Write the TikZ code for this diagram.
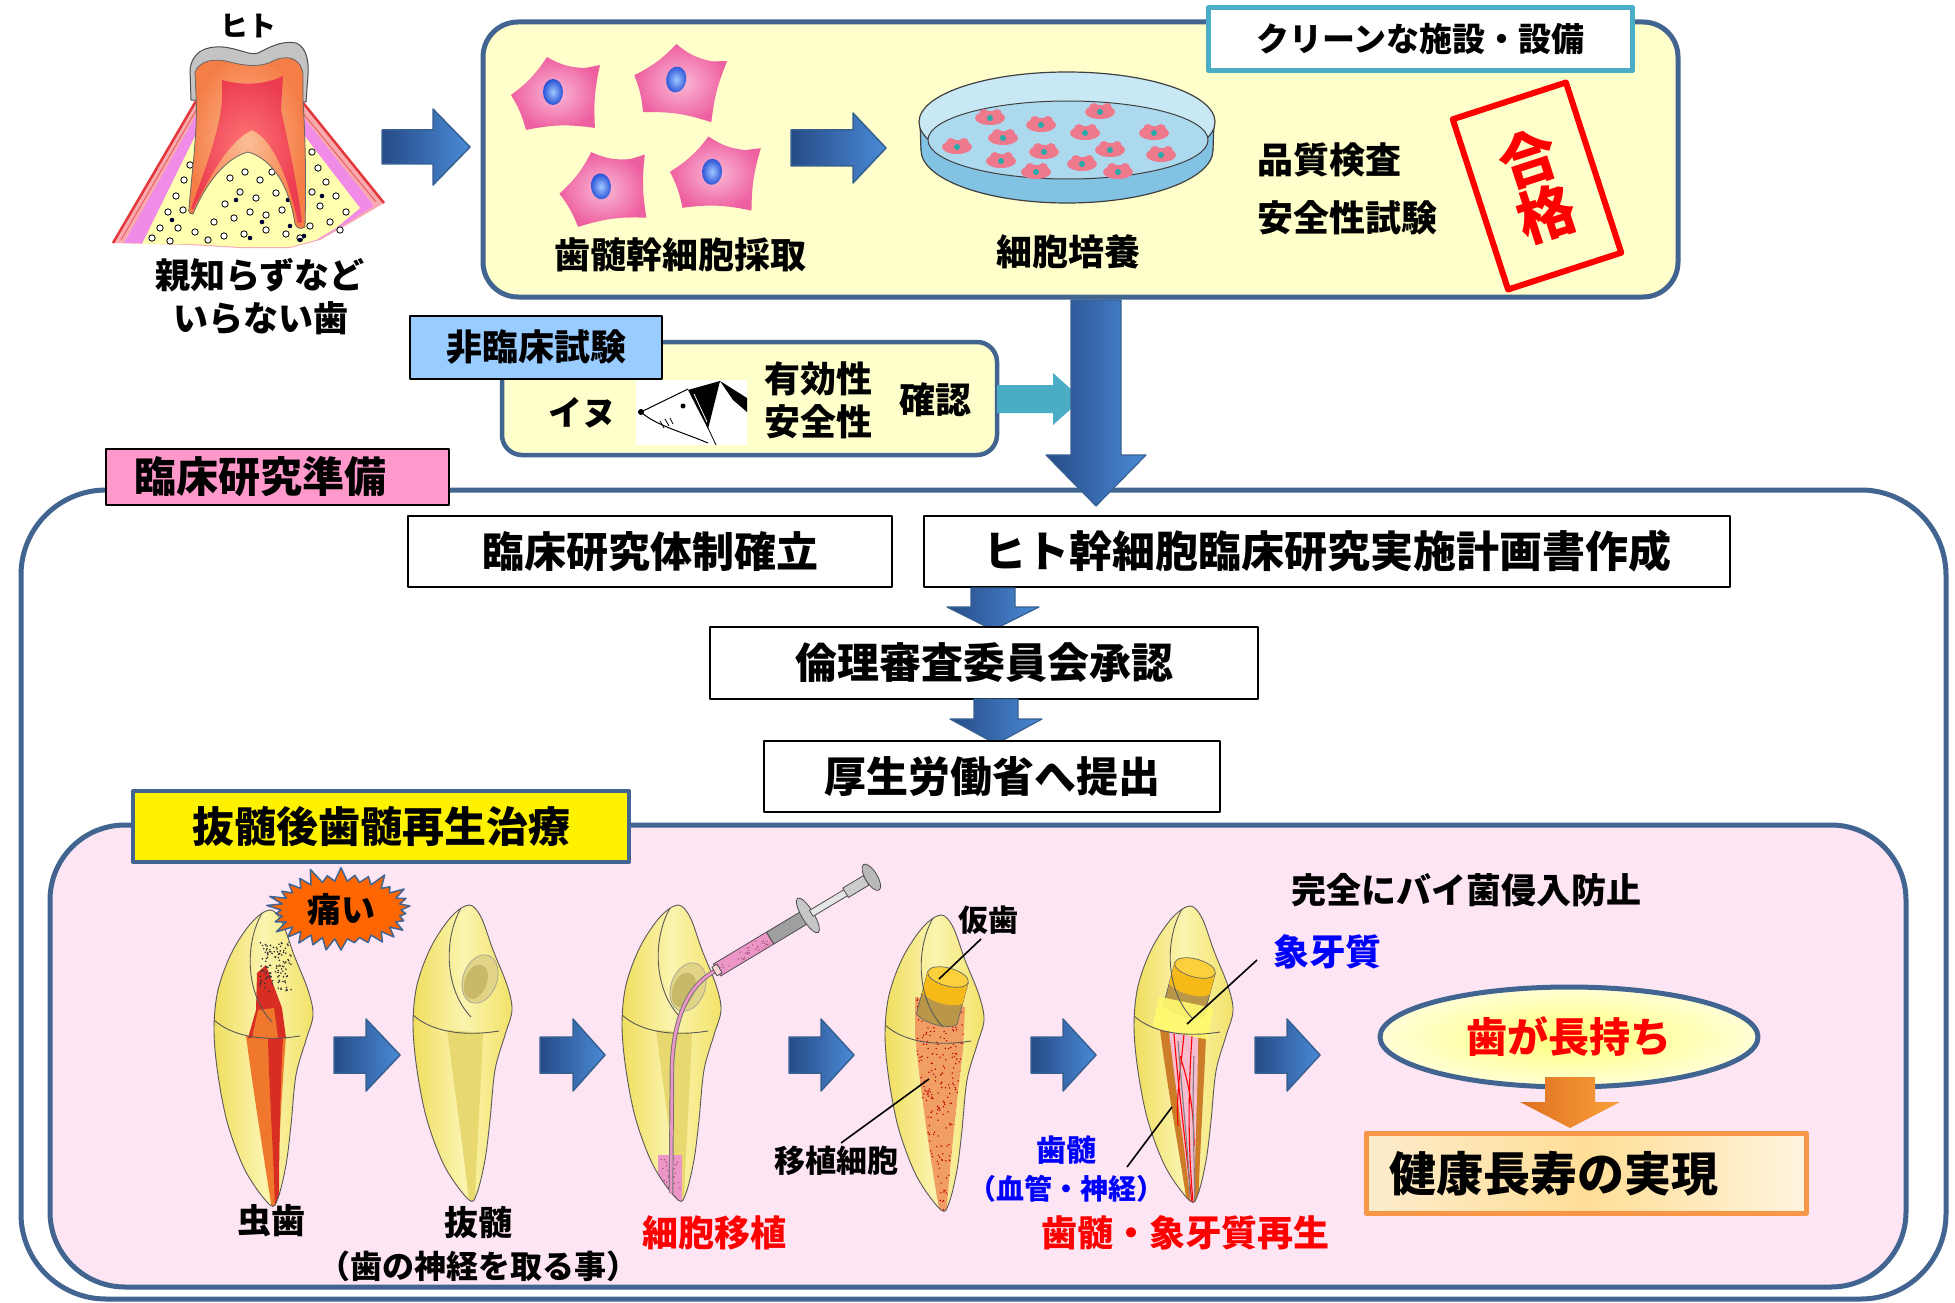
\documentclass[tikz,border=0pt]{standalone}
\usepackage{fontspec}
\setmainfont{Noto Sans CJK JP}
\usetikzlibrary{shapes.geometric,shapes.symbols,calc}

\definecolor{navy}{RGB}{65,100,145}
\definecolor{arrowline}{RGB}{55,96,146}
\definecolor{arrowdark}{RGB}{38,75,135}
\definecolor{arrowlight}{RGB}{74,138,214}
\definecolor{paleyellow}{RGB}{255,255,204}
\definecolor{tealline}{RGB}{75,172,198}
\definecolor{labelblue}{RGB}{153,204,255}
\definecolor{labelpink}{RGB}{255,153,204}
\definecolor{panelpink}{RGB}{253,229,243}
\definecolor{txtblue}{RGB}{0,0,255}
\definecolor{starorange}{RGB}{255,102,0}
\definecolor{boxorange}{RGB}{247,150,70}
\definecolor{orangedark}{RGB}{222,112,32}
\definecolor{orangelight}{RGB}{250,160,60}
\definecolor{peachA}{RGB}{253,236,205}
\definecolor{peachB}{RGB}{255,222,150}
\definecolor{peachC}{RGB}{255,244,222}
\definecolor{ovalA}{RGB}{255,255,120}
\definecolor{ovalB}{RGB}{255,255,215}
\definecolor{toothA}{RGB}{240,222,95}
\definecolor{toothB}{RGB}{251,244,175}
\definecolor{toothC}{RGB}{242,226,105}
\definecolor{canalyellow}{RGB}{232,216,112}
\definecolor{cavityA}{RGB}{226,212,135}
\definecolor{cavityB}{RGB}{200,184,105}
\definecolor{pulpred}{RGB}{215,45,35}
\definecolor{pulporange}{RGB}{240,120,45}
\definecolor{cellpinkA}{RGB}{250,185,215}
\definecolor{cellpinkB}{RGB}{238,95,160}
\definecolor{nucA}{RGB}{160,200,255}
\definecolor{nucB}{RGB}{40,80,215}
\definecolor{dishtop}{RGB}{200,232,245}
\definecolor{dishbody}{RGB}{130,195,228}
\definecolor{dishfloor}{RGB}{172,217,238}
\definecolor{dishcell}{RGB}{238,120,140}
\definecolor{dishnuc}{RGB}{40,170,170}
\definecolor{gumsalmon}{RGB}{248,170,175}
\definecolor{gummagenta}{RGB}{240,140,232}
\definecolor{gumred}{RGB}{228,55,60}
\definecolor{boneyellow}{RGB}{255,255,175}
\definecolor{enamelgray}{RGB}{196,196,196}
\definecolor{dentinA}{RGB}{252,190,150}
\definecolor{dentinB}{RGB}{245,125,70}
\definecolor{molarpulpA}{RGB}{255,120,120}
\definecolor{molarpulpB}{RGB}{235,60,80}
\definecolor{syringepink}{RGB}{236,150,200}
\definecolor{graftorange}{RGB}{240,158,100}
\definecolor{crowngold}{RGB}{246,186,24}
\definecolor{crowntop}{RGB}{252,208,60}
\definecolor{crownbrown}{RGB}{185,150,72}
\definecolor{canalbrown}{RGB}{205,125,40}
\definecolor{canalpink}{RGB}{246,188,208}
\definecolor{bandyellow}{RGB}{255,250,110}

\newcommand\jsize[1]{\fontsize{#1}{#1}\selectfont}

\tikzset{
  every node/.style={inner sep=0pt, outer sep=0pt},
  jp/.style={font=\bfseries\jsize{#1}},
  frame/.style={draw=navy, line width=5pt},
  plainbox/.style={draw=black, line width=1.6pt, fill=white},
  blockR/.style={draw=arrowline, line width=1.5pt, left color=arrowdark, right color=arrowlight},
  blockD/.style={draw=arrowline, line width=1.2pt, left color=arrowdark, right color=arrowlight},
  tealarrow/.style={fill=tealline},
  orangearrow/.style={left color=orangedark, right color=orangelight},
  toothbody/.style={left color=toothA, right color=toothC, middle color=toothB},
  toothedge/.style={draw=black!65, line width=0.9pt},
  leader/.style={draw=black, line width=1.6pt},
  cellbody/.style={inner color=cellpinkA, outer color=cellpinkB},
  nucleus/.style={inner color=nucA, outer color=nucB},
}

% block arrows: style, start, centre line, head start, tip, shaft half width, head half width
\newcommand\arrowR[7]{\path[#1] (#2,{#3-#6}) -- (#4,{#3-#6}) -- (#4,{#3-#7}) -- (#5,#3) -- (#4,{#3+#7}) -- (#4,{#3+#6}) -- (#2,{#3+#6}) -- cycle;}
\newcommand\arrowD[7]{\path[#1] ({#2-#6},#3) -- ({#2+#6},#3) -- ({#2+#6},#4) -- ({#2+#7},#4) -- (#2,#5) -- ({#2-#7},#4) -- ({#2-#6},#4) -- cycle;}

% canine outline, tip at the origin
\newcommand\toothfill{\path[toothbody] plot[smooth cycle, tension=0.55] coordinates {(0,0) (12,12) (24,45) (38,80) (43,105) (36,130) (26,165) (21,215) (16,255) (8,288) (0,295) (-24,262) (-42,215) (-52,165) (-56,120) (-52,80) (-38,42) (-18,12)};}
\newcommand\toothclip{\clip plot[smooth cycle, tension=0.55] coordinates {(0,0) (12,12) (24,45) (38,80) (43,105) (36,130) (26,165) (21,215) (16,255) (8,288) (0,295) (-24,262) (-42,215) (-52,165) (-56,120) (-52,80) (-38,42) (-18,12)};}
\newcommand\toothline{\draw[toothedge] plot[smooth cycle, tension=0.55] coordinates {(0,0) (12,12) (24,45) (38,80) (43,105) (36,130) (26,165) (21,215) (16,255) (8,288) (0,295) (-24,262) (-42,215) (-52,165) (-56,120) (-52,80) (-38,42) (-18,12)};
  \draw[toothedge] (-56,110) .. controls (-38,126) and (-8,132) .. (30,126);
  \draw[toothedge] (-8,3) .. controls (-26,35) and (-24,85) .. (2,112);}

% pentagonal stem cell
\newcommand\stemcell{\path[cellbody] (-45,2) to[bend right=10] (-9,-36) to[bend right=14] (29,-25) -- (44,-28) to[bend right=8] (39,35) to[bend right=10] (-30,37) to[bend right=8] cycle;
  \path[nucleus] (-3,-1) ellipse [x radius=10, y radius=13];}

% cultured cell in the dish
\newcommand\dishcell[2]{\fill[dishcell] (#1,#2) ellipse [x radius=15, y radius=7]; \fill[dishcell] ({#1-6},{#2-4}) circle (5); \fill[dishcell] ({#1+7},{#2-4}) circle (5); \fill[dishnuc] (#1,#2) circle (3);}

\begin{document}
\begin{tikzpicture}[x=1pt, y=-1pt, line join=round]
\useasboundingbox (0,0) rectangle (1955,1303);
\fill[white] (0,0) rectangle (1955,1303);

% ---------------- molar in the jaw ----------------
\node[jp=28] (hito) at (248,26) {ヒト};
\path[fill=gumsalmon] (113,243) -- (196,101) -- (300,99) -- (384,203) -- (352,222) -- (320,240) -- (290,248) -- (240,248) -- (190,245) -- cycle;
\path[fill=gummagenta] (124,243) -- (199,110) -- (296,108) -- (374,206) -- (345,224) -- (318,240) -- (290,247) -- (240,247) -- (190,244) -- cycle;
\path[fill=boneyellow] (142,244) -- (202,122) -- (293,121) -- (360,208) -- (336,228) -- (316,240) -- (290,247) -- (240,247) -- (190,244) -- cycle;
\draw[gumred, line width=2.5pt] (113,243) -- (196,101);
\draw[gumred, line width=2.5pt] (300,99) -- (384,203);
\draw[gumred!80, line width=1pt] (121,240) -- (198,107);
\draw[gumred!80, line width=1pt] (297,106) -- (376,202);
\foreach \x/\y in {190/165,184/180,176/196,168/212,183/210,160/228,178/228,152/238,195/232,170/241,
  230/178,245/172,260/180,272/172,240/192,225/204,256/198,276/193,214/222,234/218,250/212,266/215,282/210,
  224/236,244/234,266/230,286/234,208/240,312/152,318/168,326/182,312/192,336/196,320/206,346/212,330/222,310/226,300/238,340/230}
  {\draw[black, line width=0.8pt, fill=white] (\x,\y) circle (3.2);}
\foreach \x/\y in {196/188,172/220,236/200,262/222,290/226,300/240,304/236,322/196,288/200,250/238}
  {\fill[black!80!blue] (\x,\y) circle (2.3);}
\path[fill=enamelgray, draw=black!70, line width=1pt] (191,100) -- (190,70) .. controls (192,52) and (205,46) .. (222,47) .. controls (238,48) and (250,56) .. (258,53) .. controls (268,48) and (282,40) .. (296,43) .. controls (306,47) and (309,60) .. (308,75) -- (306,102) -- cycle;
\path[inner color=dentinA, outer color=dentinB, draw=black!60, line width=0.8pt] (196,95) -- (195,72) .. controls (200,60) and (215,58) .. (230,62) .. controls (245,66) and (262,68) .. (275,60) .. controls (290,54) and (302,60) .. (303,75) -- (303,100) .. controls (306,150) and (306,190) .. (305,227) .. controls (300,230) and (297,228) .. (295,224) .. controls (290,190) and (275,160) .. (248,152) .. controls (225,158) and (205,185) .. (193,214) .. controls (190,214) and (188,212) .. (189,208) .. controls (192,170) and (198,130) .. (196,95) -- cycle;
\path[inner color=molarpulpA, outer color=molarpulpB] (222,80) .. controls (240,85) and (262,86) .. (283,76) -- (281,110) .. controls (290,150) and (298,190) .. (302,222) -- (298,223) .. controls (290,185) and (275,140) .. (252,130) .. controls (230,140) and (210,175) .. (193,210) -- (191,208) .. controls (205,170) and (220,130) .. (222,100) -- cycle;
\node[jp=35] (wisdom) at (260,275) {親知らずなど};
\node[jp=35] (unneeded) at (261,318) {いらない歯};
\arrowR{blockR}{382}{147}{433}{470}{17}{38}

% ---------------- cell culture ----------------
\draw[frame, fill=paleyellow, rounded corners=35pt] (483,22) rectangle (1678,297);
\node[draw=tealline, line width=5pt, fill=white, minimum width=424pt, minimum height=63pt, jp=33] (clean) at (1420.5,39) {クリーンな施設・設備};
\begin{scope}[shift={(556,93)}] \stemcell \end{scope}
\begin{scope}[shift={(679,81)}, rotate=-10] \stemcell \end{scope}
\begin{scope}[shift={(604,187)}, rotate=6] \stemcell \end{scope}
\begin{scope}[shift={(715,173)}, rotate=-4] \stemcell \end{scope}
\node[jp=36] (harvest) at (680,255) {歯髄幹細胞採取};
\arrowR{blockR}{791}{148}{853}{886}{18}{35}
% petri dish
\path[fill=dishbody, draw=black!75, line width=1.2pt] (1067,150) ellipse [x radius=146, y radius=53];
\fill[dishbody] (920,122) rectangle (1213,150);
\draw[black!75, line width=1.2pt] (920,122) -- (921,150);
\draw[black!75, line width=1.2pt] (1214,122) -- (1213,150);
\path[fill=dishtop, draw=black!75, line width=1.2pt] (1067,122) ellipse [x radius=148, y radius=50];
\path[fill=dishfloor, draw=black!75, line width=1pt] (1068,140) ellipse [x radius=140, y radius=39];
\dishcell{990}{118} \dishcell{1041}{125} \dishcell{1100}{112} \dishcell{1003}{138}
\dishcell{1085}{133} \dishcell{1154}{133} \dishcell{957}{147} \dishcell{1044}{152}
\dishcell{1110}{150} \dishcell{1161}{155} \dishcell{1001}{161} \dishcell{1082}{164}
\dishcell{1036}{172} \dishcell{1118}{172}
\node[jp=36] (culture) at (1068,252) {細胞培養};
\node[jp=36, anchor=west] (quality) at (1257,160) {品質検査};
\node[jp=36, anchor=west] (safetytest) at (1257,218) {安全性試験};
\node[draw=red, line width=6pt, rotate=18, minimum width=119pt, minimum height=179pt, align=center, text=red, jp=58] (passed) at (1537,186) {合\\格};

% ---------------- non-clinical study ----------------
\draw[draw=navy, line width=4.5pt, fill=paleyellow, rounded corners=20pt] (502,342) rectangle (997,455);
\node[fill=labelblue, draw=black, line width=1.6pt, minimum width=252pt, minimum height=63pt, jp=36] (nonclin) at (536,347.5) {非臨床試験};
\node[jp=34] (dogword) at (582,413) {イヌ};
\node[fill=white, minimum width=111pt, minimum height=65pt] (dogpic) at (691.5,412.5) {};
\draw[black, line width=1pt] (641,412) -- (688,389);
\draw[black, line width=1pt] (641,412) .. controls (655,425) and (682,432) .. (708,443);
\draw[black, line width=0.8pt] (708,428) -- (716,445);
\draw[black, line width=0.8pt] (660,421) -- (664,428) (665,419) -- (669,426) (670,418) -- (673,424);
\fill[black] (641,412) circle (3);
\fill[black] (683,406) circle (2.5);
\fill[black] (688,390) -- (720,381) -- (708,429) -- cycle;
\draw[white, line width=0.8pt] (694,394) -- (707,422);
\fill[black] (720,381) -- (747,398) -- (747,412) -- (733,400) -- cycle;
\node[jp=36] (efficacy) at (818,379) {有効性};
\node[jp=36] (safety) at (818,422) {安全性};
\node[jp=36] (confirm) at (935,400) {確認};
\arrowR{tealarrow}{997}{399}{1053}{1082}{14}{26}

% ---------------- clinical research preparation ----------------
\draw[frame, rounded corners=85pt] (21,490) rectangle (1946,1299);
\node[fill=labelpink, draw=black, line width=1.6pt, minimum width=343pt, minimum height=56pt] (prepLabel) at (277.5,477) {};
\node[jp=42, anchor=west] (prepText) at (134,477) {臨床研究準備};
\arrowD{blockD}{1096}{300}{455}{506}{25}{50}
\node[plainbox, minimum width=484pt, minimum height=71pt, jp=42] (system) at (650,551.5) {臨床研究体制確立};
\node[plainbox, minimum width=806pt, minimum height=71pt, jp=43] (plan) at (1327,551.5) {ヒト幹細胞臨床研究実施計画書作成};
\arrowD{blockD}{993}{588}{607}{630}{22}{46}
\node[plainbox, minimum width=548pt, minimum height=72pt, jp=42] (ethics) at (984,663) {倫理審査委員会承認};
\arrowD{blockD}{996}{699}{719}{744}{22}{46}
\node[plainbox, minimum width=456pt, minimum height=71pt, jp=42] (ministry) at (992,776.5) {厚生労働省へ提出};

% ---------------- regenerative therapy ----------------
\draw[frame, fill=panelpink, rounded corners=75pt] (50,825) rectangle (1906,1287);
\node[fill=yellow, draw=navy, line width=4pt, minimum width=496pt, minimum height=71pt, jp=42] (therapyLabel) at (381,826.5) {抜髄後歯髄再生治療};

% tooth 1: caries
\begin{scope}[shift={(270,910)}]
  \toothfill
  \begin{scope}
    \toothclip
    \fill[pulporange] (-24,126) .. controls (-14,200) and (-4,260) .. (2,300) -- (8,300) .. controls (8,240) and (12,180) .. (16,126) -- cycle;
    \fill[pulpred] (-2,128) .. controls (0,200) and (4,250) .. (5,300) -- (9,300) .. controls (9,240) and (10,180) .. (13,128) -- cycle;
    \fill[pulpred] (-13,63) -- (-4,55) -- (12,98) -- (16,128) -- (-22,128) -- (-14,100) -- cycle;
    \fill[pulporange] (-12,100) -- (4,98) -- (8,128) -- (-18,128) -- cycle;
    \pgfmathsetseed{11}
    \foreach \i in {1,...,120}{\pgfmathsetmacro{\dx}{-10+32*rnd}\pgfmathsetmacro{\dy}{32+50*rnd}\fill[black!80] (\dx,\dy) circle (0.9);}
  \end{scope}
  \toothline
\end{scope}
\arrowR{blockR}{334}{1055}{366}{400}{18}{36}

% tooth 2: pulp removed
\begin{scope}[shift={(469,905)}]
  \toothfill
  \begin{scope}
    \toothclip
    \fill[canalyellow] (-22,125) .. controls (-12,200) and (-4,260) .. (0,295) -- (6,295) .. controls (8,240) and (12,180) .. (14,128) -- cycle;
  \end{scope}
  \begin{scope}[shift={(11,74)}, rotate=-20]
    \path[fill=cavityA, draw=black!40, line width=0.6pt] (0,0) ellipse [x radius=17, y radius=25];
    \fill[cavityB] (-3,4) ellipse [x radius=11, y radius=18];
  \end{scope}
  \toothline
\end{scope}
\arrowR{blockR}{540}{1055}{573}{605}{18}{36}

% tooth 3: cell transplantation
\begin{scope}[shift={(678,905)}]
  \toothfill
  \begin{scope}
    \toothclip
    \fill[canalyellow] (-22,125) .. controls (-12,200) and (-4,260) .. (0,295) -- (6,295) .. controls (8,240) and (12,180) .. (14,128) -- cycle;
    \fill[syringepink] (-20,250) rectangle (4,305);
    \pgfmathsetseed{5}
    \foreach \i in {1,...,40}{\pgfmathsetmacro{\dx}{-18+20*rnd}\pgfmathsetmacro{\dy}{252+45*rnd}\fill[magenta!60!black] (\dx,\dy) circle (0.7);}
  \end{scope}
  \begin{scope}[shift={(10,82)}, rotate=-20]
    \path[fill=cavityA, draw=black!40, line width=0.6pt] (0,0) ellipse [x radius=17, y radius=25];
    \fill[cavityB] (-3,4) ellipse [x radius=11, y radius=18];
  \end{scope}
  \toothline
  \draw[black!55, line width=4.5pt] (39,65) .. controls (12,78) and (-4,110) .. (-6,160) -- (-7,288);
  \draw[syringepink, line width=2.6pt] (39,65) .. controls (12,78) and (-4,110) .. (-6,160) -- (-7,288);
  \begin{scope}[shift={(39,65)}, rotate=31]
    \path[fill=syringepink, draw=black!70, line width=0.8pt] (0,-7) rectangle (62,7);
    \pgfmathsetseed{3}
    \foreach \i in {1,...,35}{\pgfmathsetmacro{\dx}{2+58*rnd}\pgfmathsetmacro{\dy}{-5+10*rnd}\fill[magenta!60!black] (\dx,\dy) circle (0.7);}
    \path[fill=pink!70, draw=black!70, line width=0.8pt] (-3,-5) rectangle (3,5);
    \path[fill=gray!75, draw=black!70, line width=0.8pt] (62,-7) rectangle (103,7);
    \path[fill=gray!45, draw=black!70, line width=0.8pt] (106,0) ellipse [x radius=6, y radius=20];
    \path[fill=gray!20, draw=black!70, line width=0.8pt] (110,-3.5) rectangle (152,3.5);
    \path[fill=gray!40, draw=black!70, line width=0.8pt] (150,-5.5) rectangle (174,5.5);
    \path[fill=gray!55, draw=black!70, line width=0.8pt] (180,0) ellipse [x radius=6, y radius=15];
  \end{scope}
\end{scope}
\arrowR{blockR}{789}{1055}{821}{854}{18}{36}

% tooth 4: transplanted cells under a temporary crown
\begin{scope}[shift={(941,915)}]
  \toothfill
  \begin{scope}
    \toothclip
    \path[fill=graftorange] (-26,82) -- (24,92) -- (22,135) .. controls (14,200) and (8,260) .. (5,305) -- (0,305) .. controls (-10,250) and (-20,180) .. (-26,120) -- cycle;
    \clip (-26,82) -- (24,92) -- (22,135) .. controls (14,200) and (8,260) .. (5,305) -- (0,305) .. controls (-10,250) and (-20,180) .. (-26,120) -- cycle;
    \pgfmathsetseed{21}
    \foreach \i in {1,...,320}{\pgfmathsetmacro{\dx}{-26+50*rnd}\pgfmathsetmacro{\dy}{82+222*rnd}\fill[red!75!black] (\dx,\dy) circle (0.8);}
  \end{scope}
  \begin{scope}[shift={(7,62)}, rotate=-15]
    \path[fill=crownbrown, draw=black!60, line width=0.7pt] (-21,0) -- (-21,44) .. controls (-10,51) and (12,51) .. (21,44) -- (21,0) -- cycle;
    \path[fill=crowngold] (-21,0) -- (-21,22) .. controls (-10,29) and (12,29) .. (21,22) -- (21,0) -- cycle;
    \path[fill=crowntop, draw=black!60, line width=0.7pt] (0,0) ellipse [x radius=21, y radius=9];
  \end{scope}
  \toothline
\end{scope}
\arrowR{blockR}{1031}{1055}{1063}{1096}{18}{36}

% tooth 5: regenerated pulp and dentin
\begin{scope}[shift={(1190,906)}]
  \toothfill
  \begin{scope}
    \toothclip
    \fill[canalbrown] (-30,124) .. controls (-20,200) and (-8,260) .. (-2,305) -- (8,305) .. controls (10,240) and (14,180) .. (16,130) -- cycle;
    \fill[canalpink] (-21,126) .. controls (-12,200) and (-3,260) .. (1,300) -- (4,300) .. controls (5,240) and (8,180) .. (8,130) -- cycle;
    \draw[red, line width=1.1pt] (-16,128) .. controls (-12,180) and (-4,240) .. (2,298);
    \draw[red, line width=1.1pt] (-6,128) .. controls (-10,170) and (-14,190) .. (-12,220);
    \draw[red, line width=1.1pt] (2,130) .. controls (-2,190) and (-2,240) .. (3,296);
    \draw[red, line width=1.1pt] (-10,150) .. controls (-2,175) and (4,200) .. (4,240);
    \draw[gray, line width=1.1pt] (-12,135) .. controls (-8,190) and (-2,240) .. (0,290);
    \draw[gray, line width=1.1pt] (4,150) .. controls (2,200) and (4,250) .. (5,295);
  \end{scope}
  \begin{scope}[shift={(5,62)}, rotate=-15]
    \path[fill=crownbrown, draw=black!60, line width=0.7pt] (-21,0) -- (-21,44) .. controls (-10,51) and (12,51) .. (21,44) -- (21,0) -- cycle;
    \path[fill=crowngold] (-21,0) -- (-21,22) .. controls (-10,29) and (12,29) .. (21,22) -- (21,0) -- cycle;
    \path[fill=crowntop, draw=black!60, line width=0.7pt] (0,0) ellipse [x radius=21, y radius=9];
  \end{scope}
  \begin{scope}[shift={(-7,112)}, rotate=-12]
    \fill[bandyellow, opacity=0.9] (-28,-16) rectangle (28,16);
  \end{scope}
  \toothline
\end{scope}
\arrowR{blockR}{1255}{1055}{1287}{1320}{18}{36}

\node[starburst, starburst points=30, starburst point height=16pt, random starburst=60, fill=starorange, draw=navy, line width=1.5pt, minimum width=152pt, minimum height=90pt, jp=34] (pain) at (341,910) {痛い};

% captions in the therapy panel
\node[jp=34] (caries) at (271,1221) {虫歯};
\node[jp=34] (pulpectomy) at (478,1222) {抜髄};
\node[jp=32] (pulpectomyNote) at (478,1266) {（歯の神経を取る事）};
\node[jp=36, text=red] (transplant) at (714,1233) {細胞移植};
\node[jp=31] (graftCells) at (836,1161) {移植細胞};
\node[jp=30] (tempCrown) at (988,920) {仮歯};
\node[jp=36, text=txtblue] (dentinWord) at (1327,952) {象牙質};
\node[jp=30, text=txtblue] (pulpWord) at (1066,1150) {歯髄};
\node[jp=28, text=txtblue] (pulpNote) at (1066,1189) {（血管・神経）};
\node[jp=36, text=red] (regen) at (1185,1233) {歯髄・象牙質再生};
\node[jp=35] (barrier) at (1466,890) {完全にバイ菌侵入防止};

% leader lines
\coordinate (graftFrom) at (841,1143);  \coordinate (graftTo) at (929,1079);
\coordinate (crownFrom) at (981,939);   \coordinate (crownTo) at (939,979);
\coordinate (dentinFrom) at (1257,960); \coordinate (dentinTo) at (1187,1024);
\coordinate (pulpFrom) at (1127,1167);  \coordinate (pulpTo) at (1172,1107);
\draw[leader] (graftFrom) -- (graftTo);
\draw[leader] (crownFrom) -- (crownTo);
\draw[leader] (dentinFrom) -- (dentinTo);
\draw[leader] (pulpFrom) -- (pulpTo);

% outcome
\node[ellipse, draw=navy, line width=5pt, inner color=ovalA, outer color=ovalB, minimum width=378pt, minimum height=100pt, jp=41, text=red] (longlife) at (1569,1037) {歯が長持ち};
\arrowD{orangearrow}{1570}{1077}{1102}{1128}{25}{50}
\node[draw=boxorange, line width=5pt, left color=peachA, right color=peachC, middle color=peachB, minimum width=440pt, minimum height=80pt] (longevity) at (1586,1173) {};
\node[jp=47, anchor=west] (longevityText) at (1389,1174) {健康長寿の実現};

\end{tikzpicture}
\end{document}
